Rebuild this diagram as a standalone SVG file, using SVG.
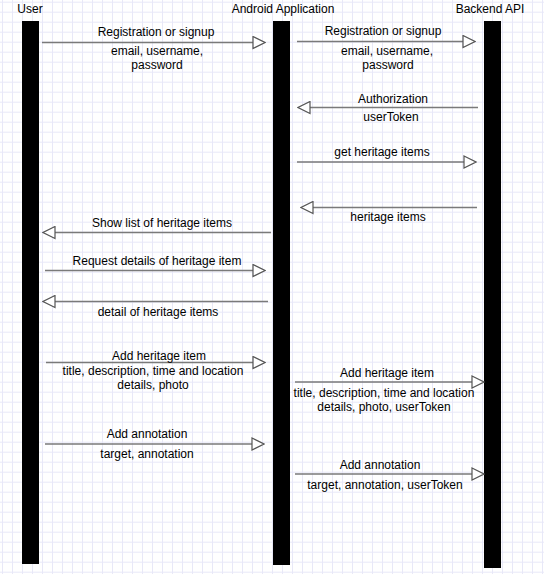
<svg xmlns="http://www.w3.org/2000/svg" width="544" height="574" viewBox="0 0 544 574">
<style>
text{font-family:"Liberation Sans",Arial,Helvetica,sans-serif;font-size:12px;fill:#000;text-anchor:middle}
.bar{fill:#000}
.msg{stroke:#7a7a7a;stroke-width:1.6;fill:none;marker-end:url(#open)}
</style>
<defs>
<pattern id="grid" x="2" y="1.7" width="10" height="10" patternUnits="userSpaceOnUse">
<path d="M0.5,0 V10 M0,0.5 H10" stroke="#e8e8f8" stroke-width="1" fill="none"/>
</pattern>
<marker id="open" viewBox="0 0 14 14" refX="1" refY="7" markerWidth="14" markerHeight="14" markerUnits="userSpaceOnUse" orient="auto">
<path d="M1,1 L13,7 L1,13 Z" fill="#fff" stroke="#555" stroke-width="1.2"/>
</marker>
</defs>
<rect width="544" height="574" fill="#fff"/>
<rect width="544" height="574" fill="url(#grid)"/>
<g id="user">
<text x="30" y="13">User</text>
<rect class="bar" x="22" y="21" width="17" height="543"/>
</g>
<g id="android">
<text x="283" y="13">Android Application</text>
<rect class="bar" x="273" y="21" width="17" height="544"/>
</g>
<g id="backend">
<text x="490" y="12.5">Backend API</text>
<rect class="bar" x="484" y="21" width="17" height="547"/>
</g>
<g id="connectors">
<line class="msg" x1="42" y1="42.5" x2="253" y2="42.5"/>
<line class="msg" x1="297" y1="41.5" x2="463" y2="41.5"/>
<line class="msg" x1="478" y1="107.5" x2="310" y2="107.5"/>
<line class="msg" x1="297" y1="162" x2="464" y2="162"/>
<line class="msg" x1="477" y1="207.5" x2="313" y2="207.5"/>
<line class="msg" x1="271" y1="232.5" x2="55" y2="232.5"/>
<line class="msg" x1="45" y1="270.5" x2="253" y2="270.5"/>
<line class="msg" x1="268" y1="301.5" x2="55" y2="301.5"/>
<line class="msg" x1="46" y1="362.5" x2="253" y2="362.5"/>
<line class="msg" x1="295" y1="382" x2="472" y2="382"/>
<line class="msg" x1="45" y1="444" x2="252" y2="444"/>
<line class="msg" x1="295" y1="474" x2="472" y2="474"/>
</g>
<g id="labels">
<text x="156" y="36">Registration or signup</text>
<text x="157" y="55">email, username,</text>
<text x="157" y="68.5">password</text>
<text x="383" y="35">Registration or signup</text>
<text x="387" y="55">email, username,</text>
<text x="388" y="68.5">password</text>
<text x="393" y="103">Authorization</text>
<text x="391" y="121">userToken</text>
<text x="382" y="156">get heritage items</text>
<text x="388" y="221">heritage items</text>
<text x="162" y="227">Show list of heritage items</text>
<text x="157" y="265">Request details of heritage item</text>
<text x="158" y="316">detail of heritage items</text>
<text x="159" y="359.5">Add heritage item</text>
<text x="153" y="375">title, description, time and location</text>
<text x="153" y="388.5">details, photo</text>
<text x="387" y="377">Add heritage item</text>
<text x="384" y="397">title, description, time and location</text>
<text x="384" y="411">details, photo, userToken</text>
<text x="147" y="438">Add annotation</text>
<text x="147" y="458">target, annotation</text>
<text x="380" y="469">Add annotation</text>
<text x="385" y="489">target, annotation, userToken</text>
</g>
</svg>
